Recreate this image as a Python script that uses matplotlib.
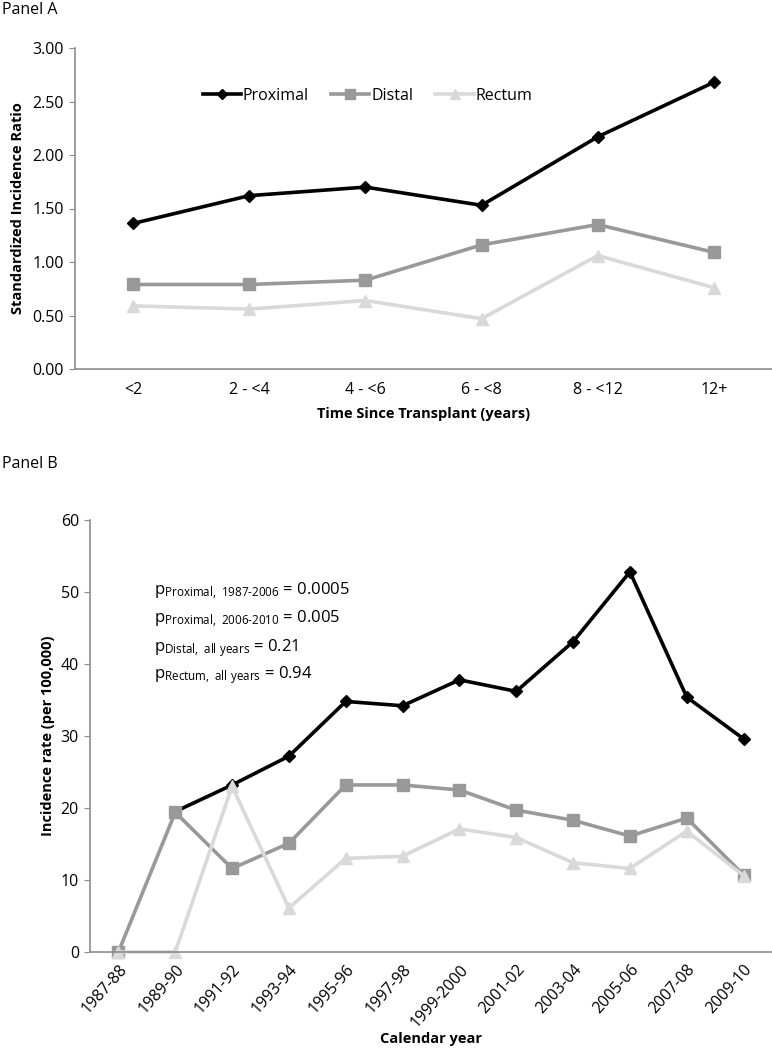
import matplotlib
matplotlib.use("Agg")
import matplotlib.pyplot as plt
import numpy as np

base = "Open Sans"
plt.rcParams['font.family'] = [base, 'DejaVu Sans']
plt.rcParams['mathtext.fontset'] = 'custom'
plt.rcParams['mathtext.rm'] = base
plt.rcParams['mathtext.it'] = base

# Panel A data
a_categories = ["<2", "2 - <4", "4 - <6", "6 - <8", "8 - <12", "12+"]
a_proximal = [1.36, 1.62, 1.70, 1.53, 2.17, 2.68]
a_distal = [0.79, 0.79, 0.83, 1.16, 1.35, 1.09]
a_rectum = [0.59, 0.56, 0.64, 0.47, 1.06, 0.76]
a_yticks = [0.0, 0.5, 1.0, 1.5, 2.0, 2.5, 3.0]

# Panel B data
b_categories = ["1987-88", "1989-90", "1991-92", "1993-94", "1995-96", "1997-98",
                "1999-2000", "2001-02", "2003-04", "2005-06", "2007-08", "2009-10"]
b_proximal = [np.nan, 19.5, 23.2, 27.2, 34.8, 34.2, 37.8, 36.2, 43.1, 52.8, 35.4, 29.6]
b_distal = [0, 19.4, 11.6, 15.1, 23.2, 23.2, 22.5, 19.7, 18.3, 16.1, 18.6, 10.7]
b_rectum = [0, 0, 23.0, 6.1, 13.0, 13.3, 17.1, 15.9, 12.4, 11.6, 16.8, 10.6]
b_yticks = [0, 10, 20, 30, 40, 50, 60]

series_style = {
    "Proximal": dict(color="black", marker="D", ms=6, lw=2.6),
    "Distal": dict(color="#999999", marker="s", ms=8, lw=2.6),
    "Rectum": dict(color="#d9d9d9", marker="^", ms=8, lw=2.6),
}

fig = plt.figure(figsize=(7.72, 10.5), dpi=100)
W, H = 772, 1050

def style_axes(ax):
    for s in ["top", "right"]:
        ax.spines[s].set_visible(False)
    for s in ["left", "bottom"]:
        ax.spines[s].set_color("#8c8c8c")
        ax.spines[s].set_linewidth(1.2)
    ax.tick_params(axis="y", direction="out", length=4, color="#8c8c8c", labelsize=11.5, pad=4)
    ax.tick_params(axis="x", length=0, labelsize=11.5)

bold_font = dict(fontsize=10.5, fontweight="bold", family=["Open Sans", "DejaVu Sans"])

# Panel A
axA = fig.add_axes([75 / W, 1 - 369 / H, (W - 75) / W, (369 - 48) / H])
xa = np.arange(len(a_categories))
for name, vals in [("Proximal", a_proximal), ("Distal", a_distal), ("Rectum", a_rectum)]:
    axA.plot(xa, vals, label=name, clip_on=False, **series_style[name])
axA.set_xlim(-0.5, len(a_categories) - 0.5)
axA.set_ylim(0, 3.0)
axA.set_yticks(a_yticks)
axA.set_yticklabels([f"{v:.2f}" for v in a_yticks])
axA.set_xticks(xa)
axA.set_xticklabels(a_categories)
axA.tick_params(axis="x", pad=9)
style_axes(axA)
axA.set_ylabel("Standardized Incidence Ratio", va="center", **bold_font)
axA.yaxis.set_label_coords((18 - 75) / (W - 75), 0.5)
axA.set_xlabel("Time Since Transplant (years)", va="center", **bold_font)
axA.xaxis.set_label_coords(0.5, -(414 - 369) / (369 - 48))
axA.legend(loc="center left", bbox_to_anchor=(0.174, (369 - 96) / (369 - 48)), ncol=3,
           frameon=False, fontsize=11.5, handlelength=2.4, handletextpad=0.1,
           columnspacing=1.4, markerscale=0.9, borderaxespad=0)
fig.text(2 / W, 1 - 10 / H, "Panel A", fontsize=11.5, va="center", ha="left")

# Panel B
axB = fig.add_axes([90 / W, 1 - 952 / H, (W - 90) / W, (952 - 520) / H])
xb = np.arange(len(b_categories))
for name, vals in [("Proximal", b_proximal), ("Distal", b_distal), ("Rectum", b_rectum)]:
    axB.plot(xb, vals, label=name, clip_on=False, **series_style[name])
axB.set_xlim(-0.5, len(b_categories) - 0.5)
axB.set_ylim(0, 60)
axB.set_yticks(b_yticks)
axB.set_xticks(xb)
axB.set_xticklabels(b_categories, rotation=48, ha="right", rotation_mode="anchor")
axB.tick_params(axis="x", pad=7, labelsize=11)
style_axes(axB)
axB.set_ylabel("Incidence rate (per 100,000)", va="center", **bold_font)
axB.yaxis.set_label_coords((48 - 90) / (W - 90), 0.5)
axB.set_xlabel("Calendar year", va="center", **bold_font)
axB.xaxis.set_label_coords(0.5, -(1039 - 952) / (952 - 520))
fig.text(2 / W, 1 - 464 / H, "Panel B", fontsize=11.5, va="center", ha="left")

ptexts = [
    (r"p$_{\mathrm{Proximal,\ 1987\text{-}2006}}$ = 0.0005", 595),
    (r"p$_{\mathrm{Proximal,\ 2006\text{-}2010}}$ = 0.005", 623),
    (r"p$_{\mathrm{Distal,\ all\ years}}$ = 0.21", 651),
    (r"p$_{\mathrm{Rectum,\ all\ years}}$ = 0.94", 678),
]
for t, y in ptexts:
    fig.text(154 / W, 1 - y / H, t, fontsize=12, va="baseline", ha="left")

fig.savefig("out.png", dpi=100)
